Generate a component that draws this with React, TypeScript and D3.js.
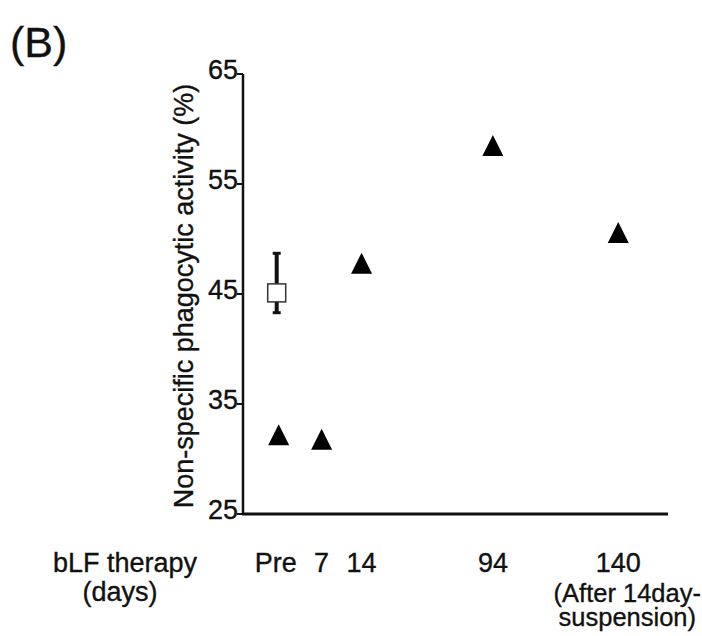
import * as d3 from "d3";

const W = 702;
const H = 636;

// x categories (bLF therapy days) and their position along the axis (0..10 units)
const categories = ["Pre", "7", "14", "94", "140"];
const catPos = [0.84, 1.85, 2.79, 5.88, 8.83];

// triangles: individual patient values
const triValues = [32.2, 31.8, 47.8, 58.5, 50.6];

// square: pre-treatment reference mean with error bar
const refMean = 45.1;
const refLow = 43.3;
const refHigh = 48.7;

const yTicks = [25, 35, 45, 55, 65];

const FONT = "'Liberation Sans', Arial, Helvetica, sans-serif";
const INK = "#111";

export default function App() {
  const margin = { left: 243, right: 34, top: 74, bottom: 122 };
  const x = d3.scaleLinear().domain([0, 10]).range([margin.left, W - margin.right]);
  const y = d3.scaleLinear().domain([25, 65]).range([H - margin.bottom, margin.top]);

  const x0 = x(0);
  const yBase = y(25);
  const triW = 21;
  const triH = 21;

  const tri = (cx: number, cy: number) =>
    `M${cx},${cy - triH / 2}L${cx + triW / 2},${cy + triH / 2}L${cx - triW / 2},${cy + triH / 2}Z`;

  const preX = x(catPos[0]) - 2;
  const sq = 18;
  const textStyle = { stroke: INK, strokeWidth: 0.35 };

  return (
    <svg
      width={W}
      height={H}
      viewBox={`0 0 ${W} ${H}`}
      style={{ position: "absolute", left: 0, top: 0, background: "#fff" }}
      fontFamily={FONT}
    >
      <text x={10} y={57} fontSize={43} fill={INK} style={textStyle}>(B)</text>

      {/* y axis */}
      <line x1={x0} x2={x0} y1={y(65)} y2={yBase} stroke={INK} strokeWidth={2.5} />
      {yTicks.map((t) => (
        <g key={t}>
          <line x1={x0 - 6} x2={x0} y1={y(t)} y2={y(t)} stroke={INK} strokeWidth={2} />
          <text
            x={x0 - 5}
            y={y(t) + 5}
            textAnchor="end"
            fontSize={27}
            fill={INK}
            style={textStyle}
          >
            {t}
          </text>
        </g>
      ))}
      {/* x axis */}
      <line x1={x0 - 1} x2={x(10)} y1={yBase} y2={yBase} stroke={INK} strokeWidth={3} />

      <text
        transform={`translate(${x0 - 50},${(y(65) + yBase) / 2 + 2}) rotate(-90)`}
        textAnchor="middle"
        fontSize={27}
        fill={INK}
        style={textStyle}
      >
        Non-specific phagocytic activity (%)
      </text>

      {/* error bar and square */}
      <line x1={preX} x2={preX} y1={y(refHigh)} y2={y(refLow)} stroke={INK} strokeWidth={4} />
      <line x1={preX - 4} x2={preX + 4} y1={y(refHigh)} y2={y(refHigh)} stroke={INK} strokeWidth={3} />
      <line x1={preX - 4} x2={preX + 4} y1={y(refLow)} y2={y(refLow)} stroke={INK} strokeWidth={3} />
      <rect
        x={preX - sq / 2}
        y={y(refMean) - sq / 2}
        width={sq}
        height={sq}
        fill="#fff"
        stroke="#333"
        strokeWidth={1.5}
      />

      {triValues.map((v, i) => (
        <path key={i} d={tri(x(catPos[i]), y(v))} fill="#000" />
      ))}

      {/* x labels */}
      <text x={125} y={572} textAnchor="middle" fontSize={27} fill={INK} style={textStyle}>bLF therapy</text>
      <text x={120} y={601} textAnchor="middle" fontSize={27} fill={INK} style={textStyle}>(days)</text>
      {categories.map((c, i) => (
        <text key={c} x={x(catPos[i]) + (i === 0 ? -3 : 0)} y={572} textAnchor="middle" fontSize={27} fill={INK} style={textStyle}>
          {c}
        </text>
      ))}
      <text x={x(catPos[4]) + 9} y={602} textAnchor="middle" fontSize={25.5} fill={INK} style={textStyle}>
        (After 14day-
      </text>
      <text x={x(catPos[4]) + 9} y={626} textAnchor="middle" fontSize={25.5} fill={INK} style={textStyle}>
        suspension)
      </text>
    </svg>
  );
}
